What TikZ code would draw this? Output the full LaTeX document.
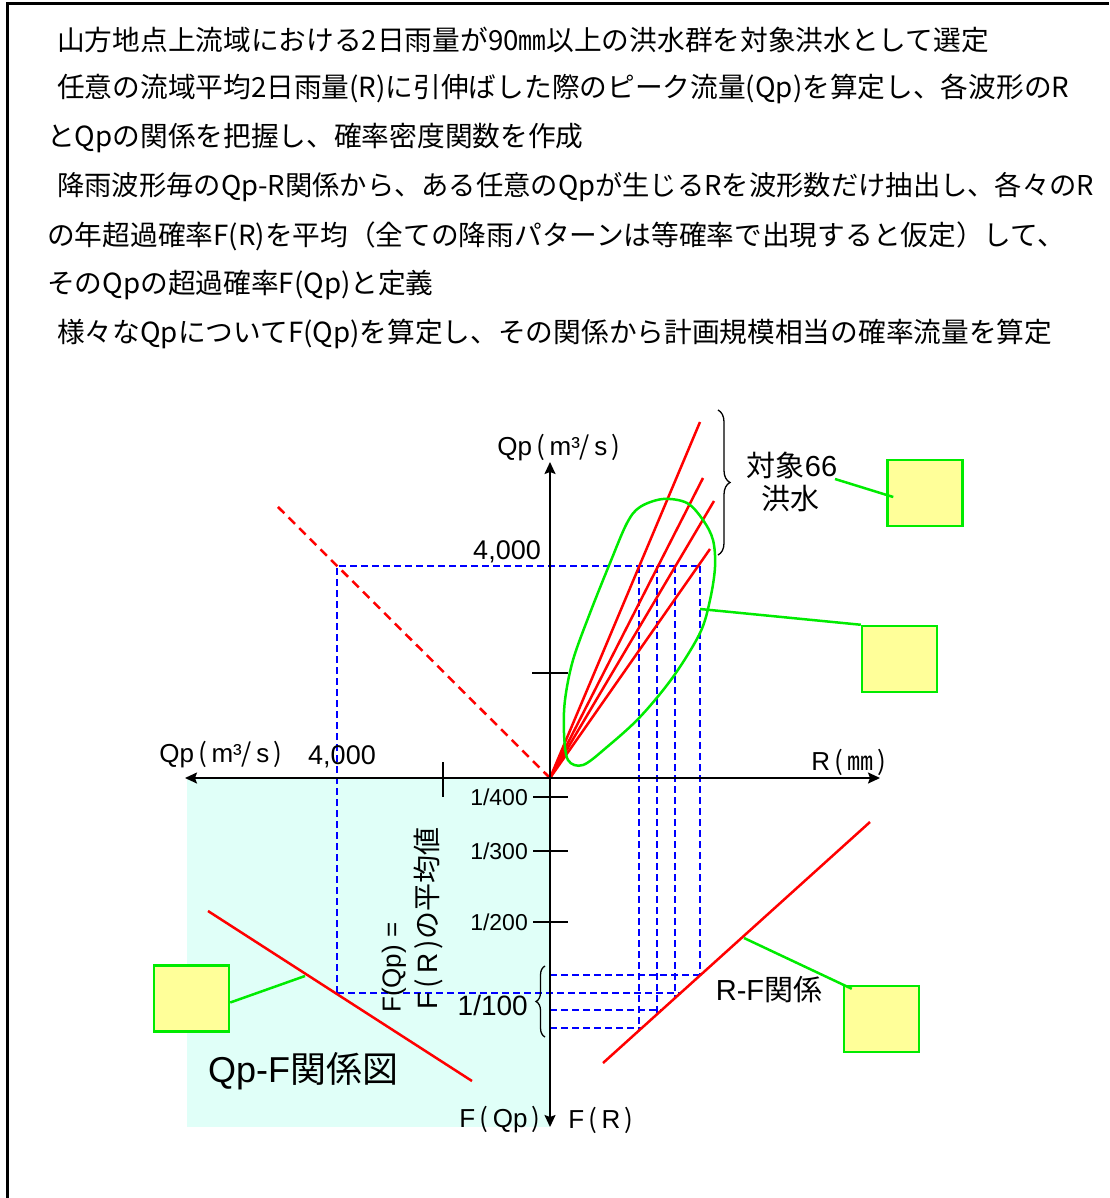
\documentclass[tikz,border=0pt]{standalone}
\usepackage{fontspec}
\setmainfont{Noto Sans CJK JP}
\newfontfamily\lat{Liberation Sans}
\usetikzlibrary{arrows.meta,decorations.pathreplacing}
\definecolor{rline}{RGB}{255,0,0}
\definecolor{bline}{RGB}{0,0,255}
\definecolor{gline}{RGB}{0,235,0}
\definecolor{cyanfill}{RGB}{224,255,248}
\definecolor{yfill}{RGB}{255,255,153}
\newcommand\fs[1]{\fontsize{#1}{#1}\selectfont}
\begin{document}
\begin{tikzpicture}[x=1pt,y=-1pt,
  hd/.style={anchor=west,inner sep=0pt,font=\fs{27.7}},
  lbl/.style={inner sep=0pt},
  ybox/.style={draw=gline,fill=yfill,line width=2.5pt,minimum width=75pt,minimum height=66pt,inner sep=0pt},
  gl/.style={gline,line width=2.5pt},
  rl/.style={rline,line width=2.5pt},
  bd/.style={bline,line width=1.8pt,dash pattern=on 7pt off 4pt},
  ax/.style={black,line width=1.8pt},
  tk/.style={black,line width=1.2pt},
  brc/.style={black,line width=1.3pt,decorate,decoration={brace,amplitude=#1}},
]
\useasboundingbox (0,0) rectangle (1109,1198);
% outer frame (top and left visible)
\draw[line width=3pt] (7,1198) -- (7,4) -- (1109,4);

% heading text
\node[hd] (t1) at (57,40) {山方地点上流域における2日雨量が90㎜以上の洪水群を対象洪水として選定};
\node[hd] (t2) at (57,89) {任意の流域平均2日雨量(R)に引伸ばした際のピーク流量(Qp)を算定し、各波形のR};
\node[hd] (t3) at (47,138) {とQpの関係を把握し、確率密度関数を作成};
\node[hd,font=\fs{27.3}] (t4) at (57,187) {降雨波形毎のQp-R関係から、ある任意のQpが生じるRを波形数だけ抽出し、各々のR};
\node[hd] (t5) at (47,236) {の年超過確率F(R)を平均（全ての降雨パターンは等確率で出現すると仮定）して、};
\node[hd] (t6) at (47,285) {そのQpの超過確率F(Qp)と定義};
\node[hd] (t7) at (57,334) {様々なQpについてF(Qp)を算定し、その関係から計画規模相当の確率流量を算定};

% cyan region
\fill[cyanfill] (187,778) rectangle (550,1127);

% coordinates
\coordinate (O) at (550,778);
\coordinate (xl) at (185,778);
\coordinate (xr) at (880,778);
\coordinate (yt) at (550,462);
\coordinate (yb) at (550,1127);

% blue dashed construction lines
\draw[bd] (337,993) -- (337,566) -- (700,566);
\draw[bd] (639,566) -- (639,1030.5);
\draw[bd] (657,566) -- (657,1014.3);
\draw[bd] (675,566) -- (675,998.0);
\draw[bd] (700,566) -- (700,975.4);
\draw[bd] (550,975) -- (700.5,975);
\draw[bd] (337,993) -- (680.6,993);
\draw[bd] (550,1010) -- (661.7,1010);
\draw[bd] (550,1028) -- (641.8,1028);

% red dashed 45 degree line
\draw[rline,line width=2.5pt,dash pattern=on 9pt off 6pt] (O) -- (277,506);

% red Qp-R lines
\coordinate (r1) at (700,422);
\coordinate (r2) at (703,478);
\coordinate (r3) at (714,501);
\coordinate (r4) at (710,549);
\foreach \r in {r1,r2,r3,r4} \draw[rl] (O) -- (\r);

% green loop
\draw[gl] plot[smooth cycle,tension=0.55] coordinates {
 (663,499) (687,503) (703,520) (713,540) (715,567) (710,600) (700,633)
 (673,677) (640,717) (607,747) (583,765) (568,760) (564,733) (565,700)
 (573,660) (590,613) (610,563) (627,523) (640,507)};

% R-F and Qp-F lines
\coordinate (rfa) at (603,1063);
\coordinate (rfb) at (870,822);
\draw[rl] (rfa) -- (rfb);
\coordinate (qfa) at (208,911);
\coordinate (qfb) at (472,1081);
\draw[rl] (qfa) -- (qfb);

% axes
\draw[ax,{Stealth[length=12pt,width=11pt,inset=2pt]}-{Stealth[length=12pt,width=11pt,inset=2pt]}] (xl) -- (xr);
\draw[ax,{Stealth[length=12pt,width=11pt,inset=2pt]}-{Stealth[length=12pt,width=11pt,inset=2pt]}] (yb) -- (yt);

% ticks
\draw[tk] (532,673) -- (568,673);
\draw[tk] (443,762) -- (443,797);
\draw[tk] (533,797) -- (568,797);
\draw[tk] (533,851) -- (568,851);
\draw[tk] (533,922) -- (568,922);

% braces
\draw[brc=12pt] (718,410) -- (718,555);
\draw[brc=9pt] (545,1037) -- (545,966);

% axis labels
\node[lbl,font=\fs{26}] (qpu) at (559,448) {{\lat Qp\,}(\,{\lat m³}/\,{\lat s}\,)};
\node[lbl,font=\lat\fs{27},anchor=east] (v4u) at (541,552) {4,000};
\node[lbl,font=\fs{26}] (qpl) at (221,755) {{\lat Qp\,}(\,{\lat m³}/\,{\lat s}\,)};
\node[lbl,font=\lat\fs{27}] (v4l) at (342,757) {4,000};
\node[lbl,font=\fs{26}] (rmm) at (849,762) {{\lat R\,}(\,㎜\,)};
\node[lbl,font=\lat\fs{23},anchor=east] (f400) at (528,797) {1/400};
\node[lbl,font=\lat\fs{23},anchor=east] (f300) at (528,851) {1/300};
\node[lbl,font=\lat\fs{23},anchor=east] (f200) at (528,922) {1/200};
\node[lbl,font=\lat\fs{28},anchor=east] (f100) at (528,1005) {1/100};
\node[lbl,font=\fs{26}] (fqp) at (500,1120) {{\lat F\,}(\,{\lat Qp}\,)};
\node[lbl,font=\fs{26}] (fr) at (601,1120) {{\lat F\,}(\,{\lat R}\,)};
\node[lbl,font=\fs{36}] (qpf) at (303,1071) {{\lat Qp-F}関係図};
\node[lbl,font=\fs{29}] (rf) at (769,990) {{\lat R-F}関係};
\node[lbl,font=\fs{26},rotate=90,anchor=west] (fq1) at (394,1013) {{\lat F(Qp) =}};
\node[lbl,font=\fs{28},rotate=90,anchor=west] (fq2) at (428,1010) {{\lat F\,}(\,{\lat R}\,)の平均値};
\node[lbl,font=\fs{29}] (tai1) at (792,465) {対象{\lat 66}};
\node[lbl,font=\fs{29}] (tai2) at (790,499) {洪水};

% yellow boxes
\node[ybox] (b1) at (925,493) {};
\node[ybox] (b2) at (899.5,659) {};
\node[ybox] (b3) at (881.5,1019) {};
\node[ybox] (b4) at (191.5,998.5) {};

% green leader lines
\coordinate (g1) at (835,479);
\draw[gl] (g1) -- ([xshift=7pt,yshift=-4pt]b1.west);
\coordinate (g2) at (700,609);
\draw[gl] (g2) -- (b2.north west);
\coordinate (g3) at (744,938);
\draw[gl] (g3) -- ([xshift=9pt,yshift=-4pt]b3.north west);
\coordinate (g4) at (305,976);
\draw[gl] (g4) -- ([yshift=-4pt]b4.east);
\end{tikzpicture}
\end{document}
